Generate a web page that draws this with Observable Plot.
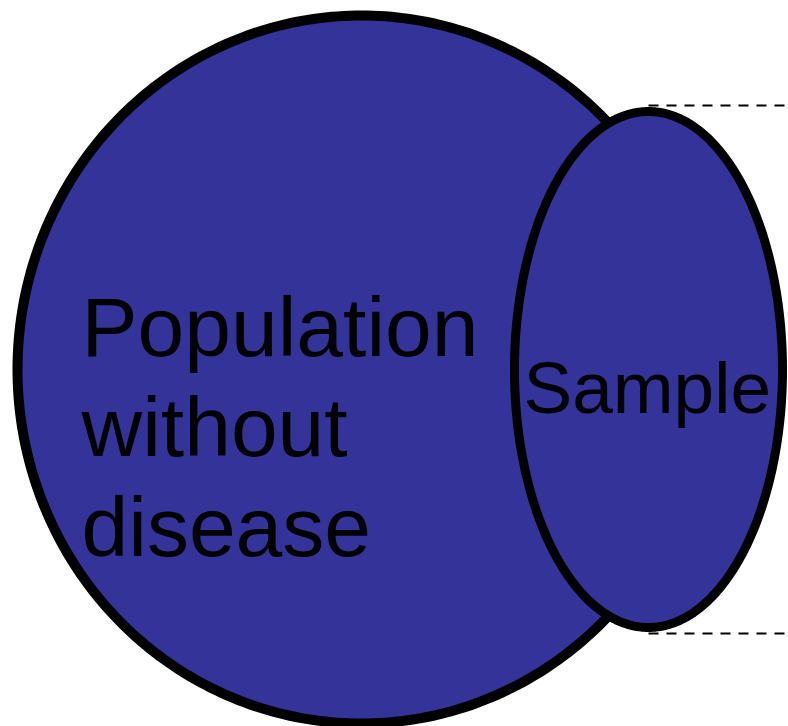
<!DOCTYPE html>
<html>
<head>
<meta charset="utf-8">
<script src="https://cdn.jsdelivr.net/npm/d3@7"></script>
<script src="https://cdn.jsdelivr.net/npm/@observablehq/plot@0.6"></script>
<style>
  html, body { margin: 0; padding: 0; background: #ffffff; }
  svg { display: block; }
</style>
</head>
<body>
<div id="chart"></div>
<script>
// Diagram data (pixel coordinate space 788 x 726, y downward)
const shapeNames = ["Population without disease", "Sample"];
const shapeCx = [361, 648];
const shapeCy = [369, 369];
const shapeRx = [344, 134];
const shapeRy = [354, 258];
const labelTexts = ["Population\nwithout\ndisease", "Sample"];
const labelX = [81, 523];
const labelTop = [284, 361];
const labelSize = [84, 73];
const guideY = [105, 633];
const guideX1 = [648, 648];
const guideX2 = [788, 788];

function ellipsePoints(i) {
  const pts = [];
  const n = 360;
  for (let k = 0; k <= n; k++) {
    const t = (k / n) * 2 * Math.PI;
    pts.push({ shape: shapeNames[i], x: shapeCx[i] + shapeRx[i] * Math.cos(t), y: shapeCy[i] + shapeRy[i] * Math.sin(t) });
  }
  return pts;
}

const big = ellipsePoints(0);
const small = ellipsePoints(1);
const guides = guideY.map((y, i) => ({ x1: guideX1[i], x2: guideX2[i], y }));
const labels = labelTexts.map((t, i) => ({ text: t, x: labelX[i], y: labelTop[i] }));

const chart = Plot.plot({
  width: 788,
  height: 726,
  margin: 0,
  style: { background: "#ffffff", overflow: "visible" },
  x: { domain: [0, 788], range: [0, 788], axis: null },
  y: { domain: [0, 726], range: [0, 726], axis: null },
  marks: [
    Plot.link(guides, { x1: "x1", x2: "x2", y1: "y", y2: "y", stroke: "#000", strokeWidth: 2.2, strokeDasharray: "10,8" }),
    Plot.line(big, { x: "x", y: "y", fill: "#333399", stroke: "#000", strokeWidth: 10, curve: "linear" }),
    Plot.line(small, { x: "x", y: "y", fill: "#333399", stroke: "#000", strokeWidth: 9, curve: "linear" }),
    Plot.text([labels[0]], { x: "x", y: "y", text: "text", textAnchor: "start", lineAnchor: "top", lineHeight: 100 / 84, fontSize: 84, fill: "#000", fontFamily: "Liberation Sans, Arial, sans-serif" }),
    Plot.text([labels[1]], { x: "x", y: "y", text: "text", textAnchor: "start", lineAnchor: "top", fontSize: 73, fill: "#000", fontFamily: "Liberation Sans, Arial, sans-serif" })
  ]
});
document.getElementById("chart").appendChild(chart);
</script>
</body>
</html>
